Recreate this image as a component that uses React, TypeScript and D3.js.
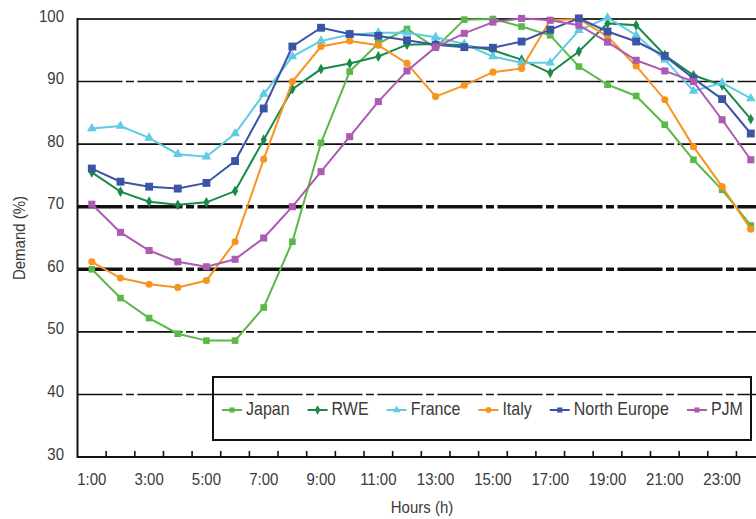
import React, { useMemo } from "react";
import * as d3 from "d3";

const HOURS = d3.range(1, 25).map((h) => `${h}:00`);
const TICK_LABELS = ["1:00", "3:00", "5:00", "7:00", "9:00", "11:00", "13:00", "15:00", "17:00", "19:00", "21:00", "23:00"];
const Y_TICKS = [30, 40, 50, 60, 70, 80, 90, 100];
const THICK_LINES = [60, 70];

const japan = [60.0, 55.4, 52.2, 49.7, 48.6, 48.6, 53.9, 64.4, 80.2, 91.6, 96.1, 98.4, 95.4, 99.9, 100.0, 98.8, 97.4, 92.4, 89.5, 87.7, 83.1, 77.5, 72.7, 67.0];
const rwe = [75.5, 72.4, 70.8, 70.3, 70.7, 72.5, 80.7, 88.8, 92.0, 92.9, 94.0, 95.9, 96.0, 95.8, 95.0, 93.5, 91.4, 94.8, 99.3, 99.0, 94.2, 91.0, 89.4, 84.0];
const france = [82.5, 82.9, 81.0, 78.4, 78.0, 81.7, 88.0, 94.0, 96.5, 97.5, 97.8, 97.8, 97.1, 96.0, 94.0, 93.0, 93.0, 98.2, 100.2, 97.4, 93.5, 88.5, 89.8, 87.3];
const italy = [61.2, 58.6, 57.6, 57.1, 58.2, 64.4, 77.6, 90.0, 95.6, 96.5, 95.8, 92.9, 87.6, 89.4, 91.5, 92.1, 99.8, 100.0, 97.2, 92.5, 87.1, 79.6, 73.2, 66.4];
const northEurope = [76.1, 74.0, 73.2, 72.9, 73.8, 77.3, 85.7, 95.6, 98.6, 97.6, 97.3, 96.6, 95.9, 95.5, 95.4, 96.4, 98.3, 100.1, 98.0, 96.4, 94.1, 90.5, 87.2, 81.7];
const pjm = [70.4, 65.9, 63.0, 61.2, 60.4, 61.6, 65.0, 70.0, 75.6, 81.2, 86.8, 91.7, 95.5, 97.7, 99.5, 100.1, 99.8, 99.0, 96.3, 93.4, 91.7, 90.0, 83.9, 77.5];

const SERIES = [
  { label: "Japan", values: japan, color: "#5ab946", symbol: d3.symbolSquare, size: 44 },
  { label: "RWE", values: rwe, color: "#1b8a47", symbol: d3.symbolDiamond, size: 34 },
  { label: "France", values: france, color: "#5fcbe4", symbol: d3.symbolTriangle, size: 40 },
  { label: "Italy", values: italy, color: "#f7941e", symbol: d3.symbolCircle, size: 40 },
  { label: "North Europe", values: northEurope, color: "#3a55a6", symbol: d3.symbolSquare, size: 62 },
  { label: "PJM", values: pjm, color: "#ad5ab3", symbol: d3.symbolSquare, size: 50 },
];

const W = 756;
const H = 519;
const FONT = "'Liberation Sans', Arial, sans-serif";
const TEXT = "#3a3a3a";

function Label({ x, y, anchor = "middle", rotate = 0, size = 15, children }: any) {
  return (
    <text
      transform={`translate(${x},${y}) rotate(${rotate}) scale(1,1.15)`}
      textAnchor={anchor}
      dominantBaseline="middle"
      fontFamily={FONT}
      fontSize={size}
      fill={TEXT}
    >
      {children}
    </text>
  );
}

export default function App() {
  const left = 77.5;
  const top = 19;
  const bottom = 457;
  const step = 28.65;

  const x = d3.scaleBand().domain(HOURS).range([left, left + step * HOURS.length]);
  const y = d3.scaleLinear().domain([30, 100]).range([bottom, top]);
  const cx = (h: string) => (x(h) as number) + x.bandwidth() / 2;

  const line = d3
    .line<number>()
    .x((_, i) => cx(HOURS[i]))
    .y((v) => y(v));

  // legend layout from measured label widths
  const legend = useMemo(() => {
    const ctx = document.createElement("canvas").getContext("2d")!;
    ctx.font = `16px ${FONT}`;
    let pos = 222;
    return SERIES.map((s) => {
      const item = { ...s, x: pos };
      pos += 20 + 4 + ctx.measureText(s.label).width + 18;
      return item;
    });
  }, []);

  const legendY = 410;

  return (
    <svg width={W} height={H} style={{ position: "absolute", left: 0, top: 0, background: "#fff" }}>
      {/* gridlines */}
      {Y_TICKS.filter((t) => t > 30 && t < 100).map((t) => (
        <line
          key={t}
          x1={left}
          x2={W}
          y1={y(t)}
          y2={y(t)}
          stroke="#111"
          strokeWidth={THICK_LINES.includes(t) ? 3.6 : 1.6}
          strokeDasharray="45 3.5 8 3.5"
        />
      ))}
      <line x1={left} x2={W} y1={y(100)} y2={y(100)} stroke="#333" strokeWidth={2} />

      {/* legend box */}
      <rect x={213} y={377} width={538} height={63} fill="none" stroke="#111" strokeWidth={2} />

      {/* axes */}
      <line x1={left} x2={left} y1={top - 1} y2={bottom + 1} stroke="#111" strokeWidth={2} />
      <line x1={left} x2={W} y1={bottom} y2={bottom} stroke="#111" strokeWidth={2} />
      {HOURS.slice(1).map((h) => (
        <line key={h} x1={x(h)} x2={x(h)} y1={bottom} y2={bottom - 6} stroke="#111" strokeWidth={1.6} />
      ))}

      {Y_TICKS.map((t) => (
        <Label key={t} x={64} y={y(t) - 2} anchor="end">
          {t}
        </Label>
      ))}
      {TICK_LABELS.map((h) => (
        <Label key={h} x={cx(h)} y={480}>
          {h}
        </Label>
      ))}
      <Label x={422} y={508}>Hours (h)</Label>
      <Label x={20} y={238} rotate={-90}>Demand (%)</Label>

      {/* series */}
      {SERIES.map((s) => (
        <g key={s.label}>
          <path d={line(s.values) || ""} fill="none" stroke={s.color} strokeWidth={2} />
          {s.values.map((v, i) => (
            <path
              key={i}
              transform={`translate(${cx(HOURS[i])},${y(v)})`}
              d={d3.symbol(s.symbol, s.size)() || ""}
              fill={s.color}
            />
          ))}
        </g>
      ))}

      {/* legend */}
      {legend.map((s) => (
        <g key={s.label}>
          <line x1={s.x} x2={s.x + 20} y1={legendY} y2={legendY} stroke={s.color} strokeWidth={2} />
          <path transform={`translate(${s.x + 10},${legendY})`} d={d3.symbol(s.symbol, 26)() || ""} fill={s.color} />
          <Label x={s.x + 24} y={legendY} anchor="start" size={16}>
            {s.label}
          </Label>
        </g>
      ))}
    </svg>
  );
}
